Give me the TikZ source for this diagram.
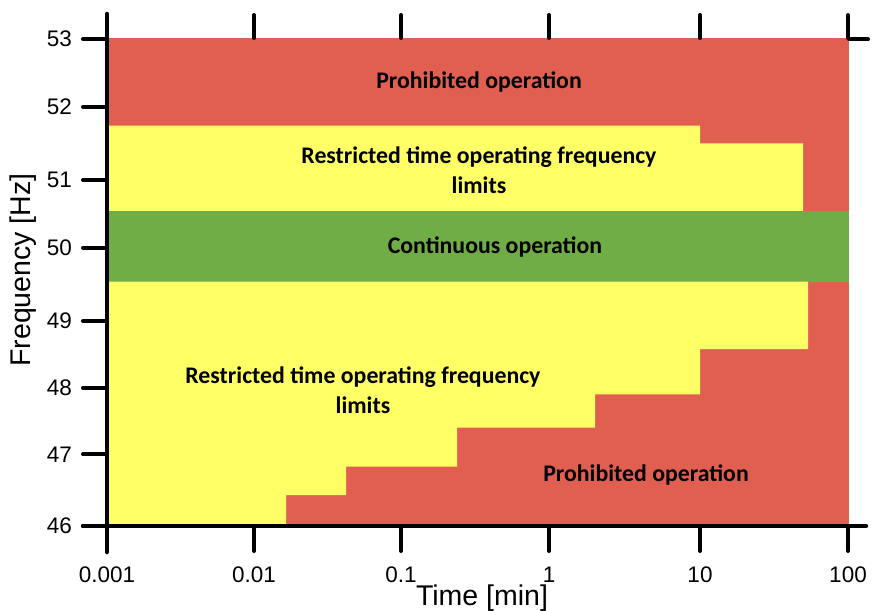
\documentclass[tikz,border=0pt]{standalone}
\usepackage{fontspec}
\setmainfont{Liberation Sans}
\newfontfamily\lblfont{Carlito}
\definecolor{pred}{HTML}{E15F50}
\definecolor{pyel}{HTML}{FFFF66}
\definecolor{pgrn}{HTML}{70AD47}
\begin{document}
\begin{tikzpicture}[x=1pt,y=-1pt,
  axisline/.style={line width=4.5pt,line cap=round},
  tickline/.style={line width=4pt,line cap=round},
  ticklbl/.style={font=\fontsize{22.5}{27}\selectfont,inner sep=0pt},
  axtitle/.style={font=\fontsize{28.5}{32}\selectfont,inner sep=0pt},
  region/.style={font=\lblfont\bfseries\fontsize{23.8}{29.5}\selectfont,align=center,inner sep=0pt}]
\useasboundingbox (0,0) rectangle (872,610);
% regions
\fill[pred] (107,38) rectangle (849,526);
\fill[pyel] (107,125.7) -- (700,125.7) -- (700,143.3) -- (803,143.3) -- (803,211) -- (107,211) -- cycle;
\fill[pgrn] (107,211) rectangle (849,281.7);
\fill[pyel] (107,281.7) -- (808,281.7) -- (808,349) -- (700,349) -- (700,394.3)
  -- (595,394.3) -- (595,427.7) -- (457,427.7) -- (457,466.7) -- (346,466.7)
  -- (346,495) -- (286,495) -- (286,526) -- (107,526) -- cycle;
% region labels
\node[region] (p1) at (479,82) {Prohibited operation};
\node[region] (r1) at (479,170) {Restricted time operating frequency\\limits};
\node[region] (c1) at (495,247) {Continuous operation};
\node[region] (r2) at (363,390) {Restricted time operating frequency\\limits};
\node[region] (p2) at (646,475) {Prohibited operation};
% axes
\draw[axisline] (83,526) -- (866,526);
\draw[axisline] (107,14) -- (107,552);
% x ticks (bottom and top) and labels
\foreach \xx/\lab [count=\i] in {107/0.001,254/0.01,401/0.1,549/1,700/10,848/100}{
  \draw[tickline] (\xx,526) -- (\xx,551);
  \draw[tickline] (\xx,38) -- (\xx,15);
  \node[ticklbl] (xl\i) at (\xx,575) {\lab};
}
% y ticks and labels
\foreach \yy/\lab [count=\i] in {39/53,106.7/52,180/51,247.7/50,321/49,387.7/48,454.3/47,526/46}{
  \draw[tickline] (83,\yy) -- (107,\yy);
  \node[ticklbl,anchor=east] (yl\i) at (72,\yy) {\lab};
}
\draw[tickline] (849,39.5) -- (868,39.5);
% axis titles
\node[axtitle] (xt) at (482,598) {Time [min]};
\node[axtitle,rotate=90] (yt) at (23,270) {Frequency [Hz]};
\end{tikzpicture}
\end{document}
